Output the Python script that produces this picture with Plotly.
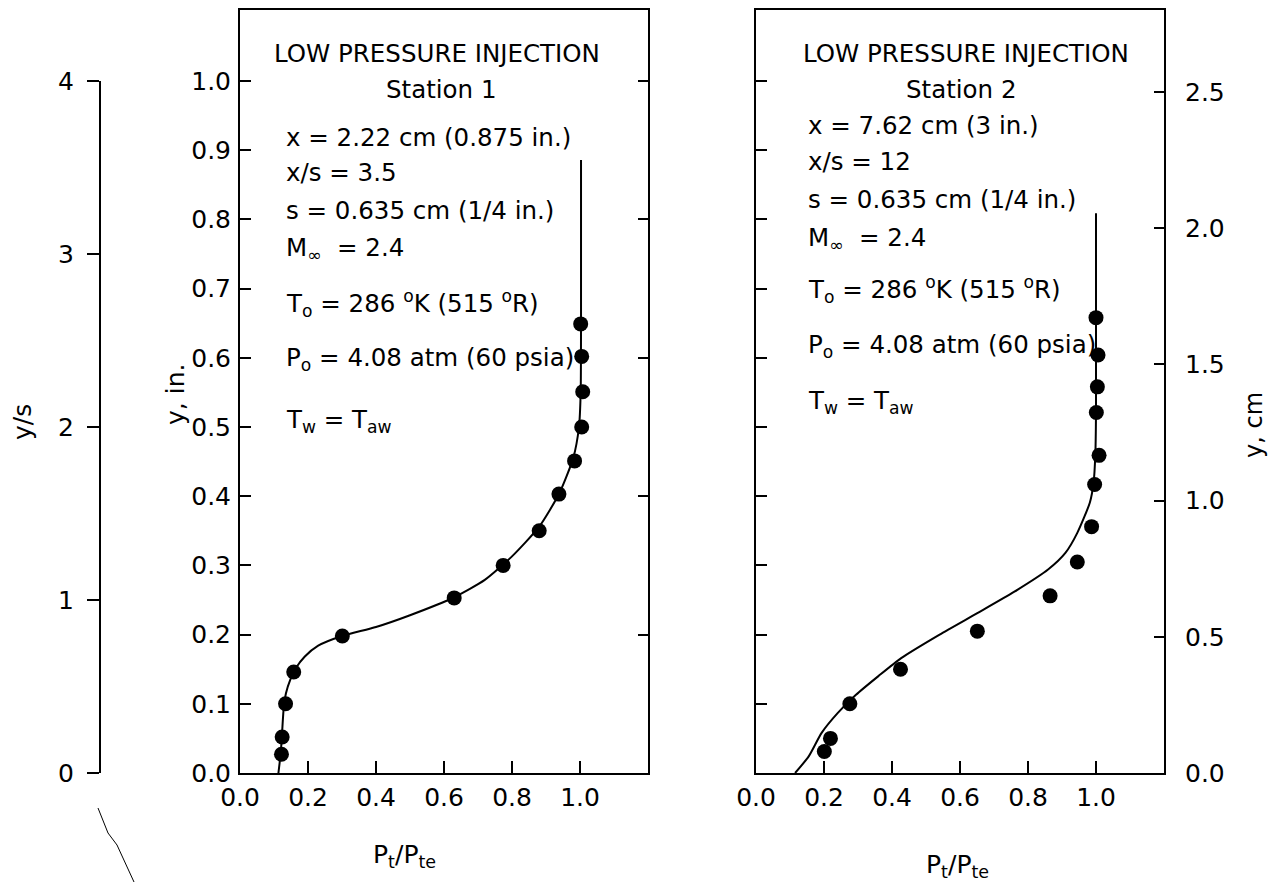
import plotly.graph_objects as go

# ---------------- data ----------------
# Station 1 measured points (Pt/Pte, y in inches)
s1_pt = [0.122, 0.124, 0.134, 0.158, 0.301, 0.630, 0.774, 0.880, 0.938, 0.984, 1.005, 1.008, 1.005, 1.002]
s1_y = [0.027, 0.052, 0.100, 0.146, 0.198, 0.253, 0.300, 0.350, 0.403, 0.451, 0.500, 0.551, 0.602, 0.649]
# Station 1 faired curve
c1_pt = [0.113, 0.120, 0.124, 0.128, 0.135, 0.148, 0.165, 0.190, 0.230, 0.300, 0.400, 0.500, 0.630, 0.720, 0.800, 0.880, 0.940, 0.980, 0.997, 1.002, 1.003, 1.003]
c1_y = [0.000, 0.030, 0.060, 0.090, 0.115, 0.135, 0.152, 0.168, 0.184, 0.198, 0.211, 0.228, 0.254, 0.279, 0.313, 0.356, 0.405, 0.455, 0.500, 0.550, 0.650, 0.886]

# Station 2 measured points
s2_pt = [0.201, 0.219, 0.276, 0.425, 0.651, 0.865, 0.945, 0.987, 0.996, 1.009, 1.001, 1.004, 1.006, 1.000]
s2_y = [0.031, 0.050, 0.100, 0.150, 0.205, 0.256, 0.305, 0.356, 0.417, 0.459, 0.521, 0.558, 0.604, 0.658]
# Station 2 faired curve
c2_pt = [0.115, 0.155, 0.193, 0.240, 0.294, 0.360, 0.427, 0.540, 0.651, 0.760, 0.859, 0.910, 0.945, 0.982, 0.993, 0.998, 1.000, 1.000]
c2_y = [0.000, 0.024, 0.058, 0.0865, 0.113, 0.140, 0.166, 0.200, 0.231, 0.262, 0.294, 0.318, 0.347, 0.391, 0.420, 0.460, 0.520, 0.809]

# ticks
x_ticks = [0.0, 0.2, 0.4, 0.6, 0.8, 1.0]
x_ticklabels = ["0.0", "0.2", "0.4", "0.6", "0.8", "1.0"]
yin_ticks = [0.0, 0.1, 0.2, 0.3, 0.4, 0.5, 0.6, 0.7, 0.8, 0.9, 1.0]
yin_ticklabels = ["0.0", "0.1", "0.2", "0.3", "0.4", "0.5", "0.6", "0.7", "0.8", "0.9", "1.0"]
yin_right_ticks = [0.2, 0.4, 0.6, 0.8, 1.0]
ycm_ticks = [0.0, 0.5, 1.0, 1.5, 2.0, 2.5]
ycm_ticklabels = ["0.0", "0.5", "1.0", "1.5", "2.0", "2.5"]
ys_ticks = [0, 1, 2, 3, 4]
ys_ticklabels = ["0", "1", "2", "3", "4"]

in_to_cm = 2.54

station1_text = ["x = 2.22 cm (0.875 in.)", "x/s = 3.5", "s = 0.635 cm (1/4 in.)",
                 "M<sub>∞</sub>  = 2.4", "T<sub>o</sub> = 286 <sup>o</sup>K (515 <sup>o</sup>R)",
                 "P<sub>o</sub> = 4.08 atm (60 psia)", "T<sub>w</sub> = T<sub>aw</sub>"]
station2_text = ["x = 7.62 cm (3 in.)", "x/s = 12", "s = 0.635 cm (1/4 in.)",
                 "M<sub>∞</sub>  = 2.4", "T<sub>o</sub> = 286 <sup>o</sup>K (515 <sup>o</sup>R)",
                 "P<sub>o</sub> = 4.08 atm (60 psia)", "T<sub>w</sub> = T<sub>aw</sub>"]

# ---------------- layout helpers ----------------
W, H = 1271, 892
def px(x):
    return x / W
def py(y):
    return (H - y) / H

FONT = "DejaVu Sans"
ink = "black"

yr_in = [0, 1.1026]

fig = go.Figure()

line_style = dict(color=ink, width=2, shape="spline", smoothing=0.6)
mk = dict(color=ink, size=15)

fig.add_trace(go.Scatter(x=c1_pt, y=c1_y, mode="lines", line=line_style, xaxis="x", yaxis="y", hoverinfo="skip"))
fig.add_trace(go.Scatter(x=s1_pt, y=s1_y, mode="markers", marker=mk, xaxis="x", yaxis="y"))
fig.add_trace(go.Scatter(x=c2_pt, y=c2_y, mode="lines", line=line_style, xaxis="x2", yaxis="y2", hoverinfo="skip"))
fig.add_trace(go.Scatter(x=s2_pt, y=s2_y, mode="markers", marker=mk, xaxis="x2", yaxis="y2"))
# traces to activate auxiliary axes
fig.add_trace(go.Scatter(x=[None], y=[None], xaxis="x2", yaxis="y3", showlegend=False))
fig.add_trace(go.Scatter(x=[None], y=[None], xaxis="x", yaxis="y4", showlegend=False))
fig.add_trace(go.Scatter(x=[None], y=[None], xaxis="x", yaxis="y5", showlegend=False))

tickfont = dict(family=FONT, size=25, color=ink)
common_x = dict(range=[0, 1.2], tickvals=x_ticks, ticktext=x_ticklabels, ticks="inside", ticklen=12,
                tickwidth=2, tickcolor=ink, showline=True, linewidth=2, linecolor=ink, mirror=True,
                showgrid=False, zeroline=False, tickfont=tickfont, ticklabelstandoff=1,
                automargin=False)

dom_y = [py(773), py(10)]

fig.update_layout(
    width=W, height=H, margin=dict(l=0, r=0, t=0, b=0, pad=0, autoexpand=False),
    paper_bgcolor="white", plot_bgcolor="rgba(0,0,0,0)", showlegend=False,
    font=dict(family=FONT, color=ink),
    xaxis=dict(domain=[px(240), px(648)], anchor="y", **common_x),
    xaxis2=dict(domain=[px(756), px(1164)], anchor="y2", **common_x),
    yaxis=dict(domain=dom_y, anchor="x", range=yr_in, tickvals=yin_ticks, ticktext=yin_ticklabels,
               ticks="inside", ticklen=11, tickwidth=2, tickcolor=ink, showline=True, linewidth=2,
               linecolor=ink, mirror=True, showgrid=False, zeroline=False, tickfont=tickfont,
               ticklabelstandoff=2, automargin=False),
    yaxis4=dict(overlaying="y", side="right", anchor="x", range=yr_in, tickvals=yin_right_ticks,
                showticklabels=False, ticks="inside", ticklen=10, tickwidth=2, tickcolor=ink,
                showline=False, showgrid=False, zeroline=False, automargin=False),
    yaxis2=dict(domain=dom_y, anchor="x2", range=yr_in, tickvals=yin_ticks[1:], showticklabels=False,
                ticks="inside", ticklen=11, tickwidth=2, tickcolor=ink, showline=True, linewidth=2,
                linecolor=ink, mirror=True, showgrid=False, zeroline=False, automargin=False),
    yaxis3=dict(overlaying="y2", side="right", anchor="x2", range=[0, yr_in[1] * in_to_cm],
                tickvals=ycm_ticks, ticktext=ycm_ticklabels, ticks="inside", ticklen=10, tickwidth=2,
                tickcolor=ink, showline=False, showgrid=False, zeroline=False, tickfont=tickfont,
                ticklabelstandoff=20, automargin=False),
    yaxis5=dict(anchor="free", position=px(100), domain=[py(773), py(81)], range=[0, 4],
                tickvals=ys_ticks, ticktext=ys_ticklabels, ticks="outside", ticklen=12, tickwidth=2,
                tickcolor=ink, showline=True, linewidth=2, linecolor=ink, showgrid=False,
                zeroline=False, tickfont=tickfont, ticklabelstandoff=8, automargin=False),
)

ann = []
def add_text(text, x, y, size=24.5, xanchor="left", angle=0):
    ann.append(dict(text=text, x=px(x), y=py(y), xref="paper", yref="paper", showarrow=False,
                    xanchor=xanchor, yanchor="middle", textangle=angle,
                    font=dict(family=FONT, size=size, color=ink)))

# Station 1 block
add_text("LOW PRESSURE INJECTION", 437, 54, xanchor="center")
add_text("Station 1", 441, 90, xanchor="center")
s1_rows = [137, 173, 210, 249, 303, 359, 421]
for t, yy in zip(station1_text, s1_rows):
    add_text(t, 284, yy)

# Station 2 block
add_text("LOW PRESSURE INJECTION", 966, 54, xanchor="center")
add_text("Station 2", 961, 89, xanchor="center")
s2_rows = [126, 162, 200, 239, 289, 346, 402]
for t, yy in zip(station2_text, s2_rows):
    add_text(t, 806, yy)

# axis titles
add_text("P<sub>t</sub>/P<sub>te</sub>", 404, 856, size=25, xanchor="center")
add_text("P<sub>t</sub>/P<sub>te</sub>", 957, 866, size=25, xanchor="center")
add_text("y/s", 22, 422, size=25, xanchor="center", angle=-90)
add_text("y, in.", 175, 395, size=25, xanchor="center", angle=-90)
add_text("y, cm", 1254, 425, size=24, xanchor="center", angle=-90)

fig.update_layout(annotations=ann)

# scanned stray stroke below the y/s axis
fig.add_shape(type="path", xref="paper", yref="paper",
              path=f"M {px(98)} {py(808)} L {px(108)} {py(833)} L {px(117)} {py(845)} L {px(134)} {py(882)}",
              line=dict(color=ink, width=1))

fig.write_html("out.html", config={"displayModeBar": False},
               post_script="document.body.style.margin='0px';")
